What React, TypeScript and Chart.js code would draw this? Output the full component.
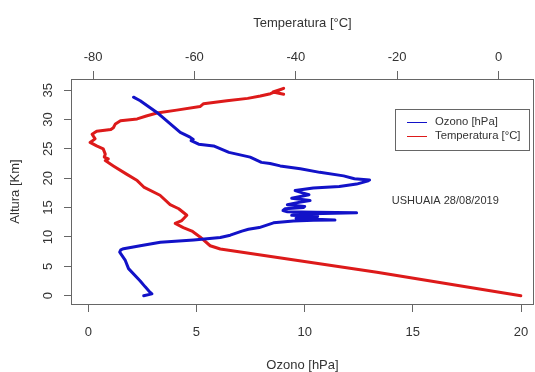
import { useEffect, useRef } from "react";
import { Chart, registerables } from "chart.js";

Chart.register(...registerables);

// ---- data ----
const ozoneAlt = [0.0, 0.3, 0.6, 1.5, 2.5, 4.6, 6.0, 7.4, 7.8, 8.0, 8.5, 9.1, 9.5, 9.9, 10.3, 11.0, 11.3, 11.6, 12.4, 12.7, 12.85, 12.9, 13.05, 13.2, 13.5, 13.7, 13.9, 14.1, 14.2, 14.3, 14.5, 14.8, 15.0, 15.2, 15.5, 15.8, 16.2, 16.6, 17.2, 17.5, 17.9, 18.35, 18.6, 19.0, 19.5, 19.7, 19.9, 20.4, 21.0, 21.6, 22.1, 22.5, 22.7, 23.6, 24.4, 25.5, 25.8, 26.4, 26.6, 27.0, 27.8, 29.25, 31.2, 32.4, 33.2, 33.8];
const ozoneVal = [2.56, 2.94, 2.85, 2.63, 2.4, 1.86, 1.71, 1.45, 1.5, 1.63, 2.4, 3.33, 4.87, 6.1, 6.56, 7.1, 7.4, 7.9, 8.56, 9.48, 10.4, 11.4, 10.2, 9.6, 10.6, 9.4, 9.8, 12.4, 10.5, 9.2, 9.0, 9.1, 9.95, 10.0, 9.2, 9.6, 10.25, 9.4, 10.2, 9.9, 9.56, 10.4, 11.6, 12.4, 12.9, 13.0, 12.3, 11.8, 10.7, 9.8, 8.87, 8.4, 8.0, 7.48, 6.5, 5.79, 5.1, 4.75, 4.85, 4.7, 4.25, 3.79, 3.17, 2.71, 2.4, 2.09];

const tempAlt = [0.0, 4.0, 7.95, 8.5, 10.0, 11.0, 11.6, 12.3, 12.8, 13.7, 14.8, 15.5, 17.1, 18.5, 19.6, 20.7, 22.1, 23.0, 23.3, 23.6, 24.1, 25.0, 25.5, 26.1, 26.7, 27.5, 28.0, 28.3, 28.6, 29.25, 29.8, 30.1, 30.6, 31.1, 31.6, 32.2, 32.7, 33.2, 33.6, 34.0, 34.4, 35.3, 34.7, 34.3];
const tempVal = [4.4, -24.0, -54.9, -56.9, -58.9, -60.5, -62.2, -63.8, -62.5, -61.5, -63.1, -64.8, -66.8, -70.0, -71.3, -73.4, -76.0, -77.6, -77.0, -77.8, -77.6, -78.0, -79.3, -80.6, -79.6, -80.2, -79.3, -76.5, -76.0, -75.6, -74.6, -71.3, -69.5, -67.4, -63.5, -58.9, -58.2, -53.6, -49.5, -47.0, -45.0, -42.4, -44.5, -42.4];

const ozoneTicks = [0, 5, 10, 15, 20];
const tempTicks = [-80, -60, -40, -20, 0];
const altTicks = [0, 5, 10, 15, 20, 25, 30, 35];

const ozoneLabel = "Ozono [hPa]";
const tempLabel = "Temperatura [°C]";
const altLabel = "Altura [Km]";
const annotationText = "USHUAIA 28/08/2019";
const annotationOzone = 16.5;
const annotationAlt = 16.1;

const FONT = '"Liberation Sans", Arial, Helvetica, sans-serif';
const TEXT = "#333333";
const AXIS = "#666666";
const BLUE = "#1212c8";
const RED = "#dd1a1a";

const noPad = (s: any) => {
  s.paddingLeft = 0;
  s.paddingRight = 0;
  s.paddingTop = 0;
  s.paddingBottom = 0;
};

export default function App() {
  const ref = useRef<HTMLCanvasElement | null>(null);

  useEffect(() => {
    document.body.style.margin = "0";
    const canvas = ref.current;
    if (!canvas) return;

    const extras = {
      id: "rExtras",
      afterDraw(chart: any) {
        const ctx = chart.ctx;
        const a = chart.chartArea;
        ctx.save();
        // frame
        ctx.strokeStyle = AXIS;
        ctx.lineWidth = 1;
        ctx.strokeRect(Math.round(a.left) + 0.5, Math.round(a.top) + 0.5, Math.round(a.right - a.left) - 1, Math.round(a.bottom - a.top));
        // y tick labels (rotated, R style)
        const ys = chart.scales.y;
        ctx.fillStyle = TEXT;
        ctx.font = `13px ${FONT}`;
        ctx.textAlign = "center";
        ctx.textBaseline = "middle";
        altTicks.forEach((v) => {
          const py = ys.getPixelForValue(v);
          ctx.save();
          ctx.translate(48, py);
          ctx.rotate(-Math.PI / 2);
          ctx.fillText(String(v), 0, 0);
          ctx.restore();
        });
        // annotation
        const xs = chart.scales.x;
        ctx.font = `11px ${FONT}`;
        ctx.textAlign = "center";
        ctx.fillText(annotationText, xs.getPixelForValue(annotationOzone), ys.getPixelForValue(annotationAlt));
        // legend
        ctx.strokeStyle = AXIS;
        ctx.strokeRect(395.5, 109.5, 134, 41);
        const ds = chart.data.datasets;
        const rows = [122, 136];
        ds.forEach((d: any, i: number) => {
          ctx.strokeStyle = d.borderColor;
          ctx.lineWidth = 1;
          ctx.beginPath();
          ctx.moveTo(407, rows[i] + 0.5);
          ctx.lineTo(427, rows[i] + 0.5);
          ctx.stroke();
          ctx.fillStyle = TEXT;
          ctx.textAlign = "left";
          ctx.textBaseline = "middle";
          ctx.font = `11.3px ${FONT}`;
          ctx.fillText(d.label, 435, rows[i]);
        });
        ctx.restore();
      },
    };

    const chart = new Chart(canvas, {
      type: "scatter",
      data: {
        datasets: [
          {
            label: ozoneLabel,
            data: ozoneAlt.map((h, i) => ({ x: ozoneVal[i], y: h })),
            xAxisID: "x",
            yAxisID: "y",
            showLine: true,
            borderColor: BLUE,
            backgroundColor: BLUE,
            borderWidth: 3,
            pointRadius: 0,
            borderJoinStyle: "round",
            borderCapStyle: "round",
          },
          {
            label: tempLabel,
            data: tempAlt.map((h, i) => ({ x: tempVal[i], y: h })),
            xAxisID: "x2",
            yAxisID: "y",
            showLine: true,
            borderColor: RED,
            backgroundColor: RED,
            borderWidth: 3,
            pointRadius: 0,
            borderJoinStyle: "round",
            borderCapStyle: "round",
          },
        ],
      },
      options: {
        responsive: false,
        animation: false,
        devicePixelRatio: 1,
        layout: { padding: { left: 0, right: 1, top: 0, bottom: 0 } },
        plugins: { legend: { display: false }, tooltip: { enabled: false } },
        scales: {
          x: {
            type: "linear",
            position: "bottom",
            min: -0.8,
            max: 20.6,
            afterBuildTicks: (s: any) => {
              s.ticks = ozoneTicks.map((v) => ({ value: v }));
            },
            afterFit: (s: any) => {
              s.height = 68;
              noPad(s);
            },
            grid: { drawOnChartArea: false, drawTicks: true, tickLength: 8, color: AXIS, lineWidth: 1 },
            border: { display: false },
            ticks: { color: TEXT, font: { size: 13, family: FONT }, padding: 13, maxRotation: 0 },
            title: { display: true, text: ozoneLabel, color: TEXT, font: { size: 13, family: FONT }, padding: { top: 0, bottom: -1 } },
          },
          x2: {
            type: "linear",
            position: "top",
            min: -84.36,
            max: 7.0,
            afterBuildTicks: (s: any) => {
              s.ticks = tempTicks.map((v) => ({ value: v }));
            },
            afterFit: (s: any) => {
              s.height = 79;
              noPad(s);
            },
            grid: { drawOnChartArea: false, drawTicks: true, tickLength: 8, color: AXIS, lineWidth: 1 },
            border: { display: false },
            ticks: { color: TEXT, font: { size: 13, family: FONT }, padding: 6, maxRotation: 0 },
            title: { display: true, text: tempLabel, color: TEXT, font: { size: 13, family: FONT }, padding: { top: 16, bottom: 0 } },
          },
          y: {
            type: "linear",
            position: "left",
            min: -1.42,
            max: 36.9,
            afterBuildTicks: (s: any) => {
              s.ticks = altTicks.map((v) => ({ value: v }));
            },
            afterFit: (s: any) => {
              s.width = 71;
              noPad(s);
            },
            grid: { drawOnChartArea: false, drawTicks: true, tickLength: 7, color: AXIS, lineWidth: 1 },
            border: { display: false },
            ticks: { color: "rgba(0,0,0,0)", font: { size: 13, family: FONT } },
            title: { display: true, text: altLabel, color: TEXT, font: { size: 13, family: FONT }, padding: { top: 8, bottom: 0 } },
          },
        },
      },
      plugins: [extras],
    } as any);

    return () => chart.destroy();
  }, []);

  return (
    <div style={{ width: 535, height: 372, background: "#ffffff" }}>
      <canvas ref={ref} width={535} height={372} style={{ display: "block" }} />
    </div>
  );
}
